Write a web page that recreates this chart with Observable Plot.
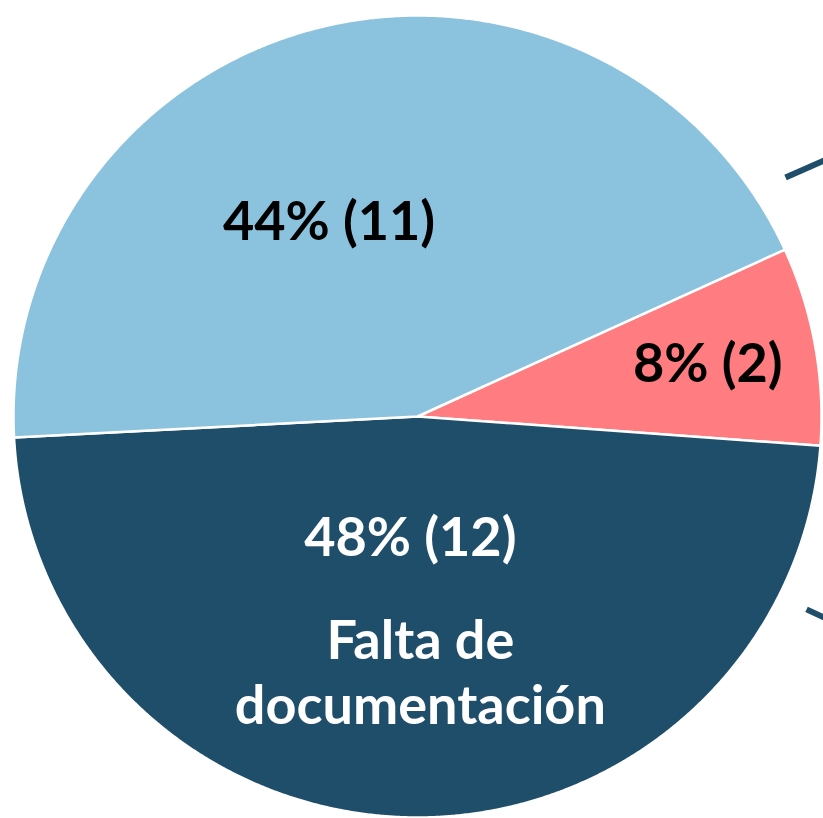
<!DOCTYPE html>
<html>
<head>
<meta charset="utf-8">
<script src="https://cdn.jsdelivr.net/npm/d3@7"></script>
<script src="https://cdn.jsdelivr.net/npm/@observablehq/plot@0.6"></script>
<style>
  html, body { margin: 0; padding: 0; background: #ffffff; overflow: hidden; }
  #chart svg { display: block; }
</style>
</head>
<body>
<div id="chart"></div>
<script>
// Slices in clockwise order (starting at the pink slice)
const values = [2, 12, 11];
const valueLabels = ["8% (2)", "48% (12)", "44% (11)"];
const categoryNames = ["", "Falta de\ndocumentación", ""];
const sliceColors = ["#FF7C80", "#1F4E6B", "#8BC2DE"];
const labelColors = ["#000000", "#ffffff", "#000000"];
const startDegrees = 65.4;
// label placement along each slice (fraction of radius, angle shift in degrees)
const labelRadius = [0.73, 0.51, 0.53];
const labelShift = [0, 0, -10.6];
// connector lines toward the secondary chart (pie units)
const connectors = [
  {x1: 0.911, y1: 0.596, x2: 1.01, y2: 0.640},
  {x1: 0.963, y1: -0.481, x2: 1.01, y2: -0.503}
];

const rad = Math.PI / 180;
const arcs = d3.pie().sort(null)
  .startAngle(startDegrees * rad)
  .endAngle(startDegrees * rad + 2 * Math.PI)(values);

const outline = [];
arcs.forEach((a, i) => {
  outline.push({slice: i, x: 0, y: 0});
  const n = Math.max(4, Math.ceil((a.endAngle - a.startAngle) / (0.25 * rad)));
  for (let k = 0; k <= n; k++) {
    const t = a.startAngle + (a.endAngle - a.startAngle) * k / n;
    outline.push({slice: i, x: Math.sin(t), y: Math.cos(t)});
  }
  outline.push({slice: i, x: 0, y: 0});
});

const anchors = arcs.map((a, i) => {
  const m = (a.startAngle + a.endAngle) / 2 + labelShift[i] * rad;
  return {
    i,
    x: labelRadius[i] * Math.sin(m),
    y: labelRadius[i] * Math.cos(m),
    value: valueLabels[i],
    name: categoryNames[i],
    color: labelColors[i]
  };
});

const font = "Lato, 'Open Sans', sans-serif";

const chart = Plot.plot({
  width: 823,
  height: 818,
  margin: 0,
  style: {background: "#ffffff", fontFamily: font},
  x: {domain: [-1, 1], range: [13, 821], axis: null},
  y: {domain: [-1, 1], range: [817, 15], axis: null},
  color: {type: "identity"},
  marks: [
    Plot.line(outline, {
      x: "x", y: "y", z: "slice",
      fill: d => sliceColors[d.slice],
      stroke: "#ffffff", strokeWidth: 2.5, strokeLinejoin: "round"
    }),
    Plot.link(connectors, {
      x1: "x1", y1: "y1", x2: "x2", y2: "y2",
      stroke: "#1F4E6B", strokeWidth: 6
    }),
    Plot.text(anchors.filter(d => d.name === ""), {
      x: "x", y: "y", text: "value", fill: "color",
      fontSize: 54, fontWeight: "bold", fontFamily: font
    }),
    Plot.text(anchors.filter(d => d.name !== ""), {
      x: "x", y: "y", text: "value", fill: "color", dy: -82, dx: -5,
      fontSize: 54, fontWeight: "bold", fontFamily: font
    }),
    Plot.text(anchors.filter(d => d.name !== ""), {
      x: "x", y: "y", text: "name", fill: "color", dy: 50, dx: 5,
      lineHeight: 1.2,
      fontSize: 54, fontWeight: "bold", fontFamily: font
    })
  ]
});

document.getElementById("chart").appendChild(chart);
</script>
</body>
</html>
